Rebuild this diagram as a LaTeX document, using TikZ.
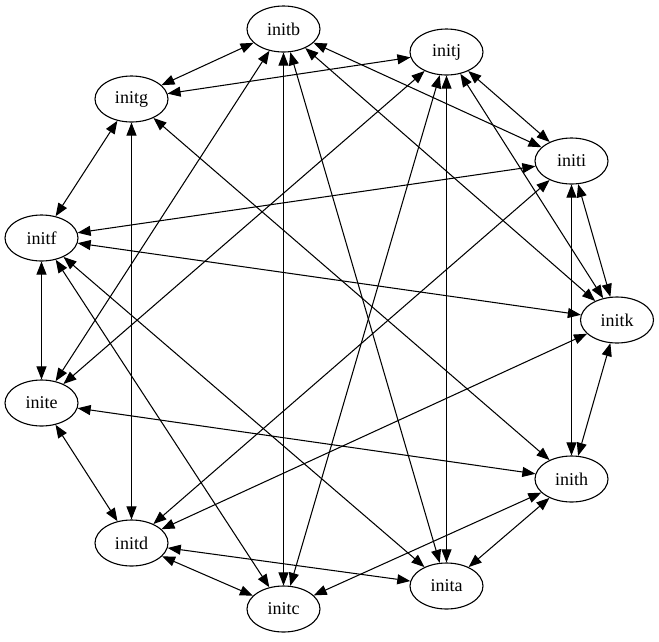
\documentclass[tikz,border=0pt]{standalone}
\usepackage{fontspec}
\setmainfont{Liberation Serif}
\usetikzlibrary{arrows.meta,shapes.geometric}
\begin{document}
\begin{tikzpicture}[x=1pt,y=-1pt,
  nd/.style={ellipse,draw,line width=1.1pt,minimum width=73pt,minimum height=46pt,inner sep=0pt,font=\fontsize{18}{18}\selectfont},
  ed/.style={line width=1.05pt,{Triangle[length=13pt,width=10pt]}-{Triangle[length=13pt,width=10pt]}}]
\useasboundingbox (0,0) rectangle (659,641);
\node[nd] (b) at (283.5,29) {initb};
\node[nd] (j) at (446.5,52) {initj};
\node[nd] (g) at (131.5,99) {initg};
\node[nd] (i) at (571.5,161) {initi};
\node[nd] (f) at (41.5,238) {initf};
\node[nd] (k) at (617,320) {initk};
\node[nd] (e) at (41.5,403) {inite};
\node[nd] (h) at (571.5,479) {inith};
\node[nd] (d) at (131.5,543) {initd};
\node[nd] (a) at (446.5,586) {inita};
\node[nd] (c) at (283.5,609) {initc};
\draw[ed] (b) -- (g);
\draw[ed] (b) -- (e);
\draw[ed] (b) -- (c);
\draw[ed] (b) -- (a);
\draw[ed] (b) -- (k);
\draw[ed] (b) -- (i);
\draw[ed] (j) -- (g);
\draw[ed] (j) -- (e);
\draw[ed] (j) -- (c);
\draw[ed] (j) -- (a);
\draw[ed] (j) -- (k);
\draw[ed] (j) -- (i);
\draw[ed] (g) -- (f);
\draw[ed] (g) -- (d);
\draw[ed] (g) -- (h);
\draw[ed] (i) -- (f);
\draw[ed] (i) -- (d);
\draw[ed] (i) -- (h);
\draw[ed] (i) -- (k);
\draw[ed] (f) -- (e);
\draw[ed] (f) -- (c);
\draw[ed] (f) -- (a);
\draw[ed] (f) -- (k);
\draw[ed] (k) -- (d);
\draw[ed] (k) -- (h);
\draw[ed] (e) -- (h);
\draw[ed] (e) -- (d);
\draw[ed] (h) -- (a);
\draw[ed] (h) -- (c);
\draw[ed] (d) -- (c);
\draw[ed] (d) -- (a);
\end{tikzpicture}
\end{document}
